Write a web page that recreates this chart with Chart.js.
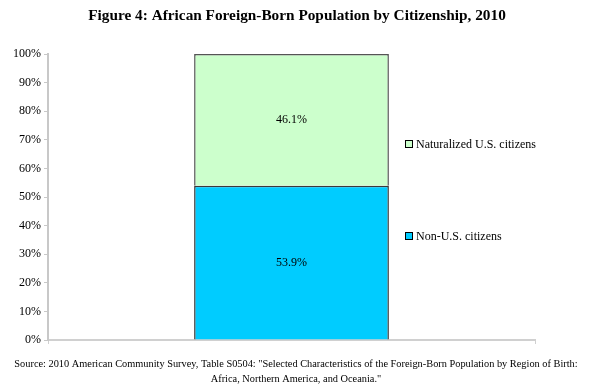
<!DOCTYPE html>
<html>
<head>
<meta charset="utf-8">
<script src="https://cdn.jsdelivr.net/npm/chart.js@4.4.1/dist/chart.umd.min.js"></script>
<style>
html,body{margin:0;padding:0;background:#fff;}
#wrap{width:590px;height:392px;position:relative;}
</style>
</head>
<body>
<div id="wrap"><canvas id="c" width="590" height="392"></canvas></div>
<script>
const titleText = "Figure 4: African Foreign-Born Population by Citizenship, 2010";
const sourceLines = [
  "Source: 2010 American Community Survey, Table S0504: \"Selected Characteristics of the Foreign-Born Population by Region of Birth:",
  "Africa, Northern America, and Oceania.\""
];
const categories = ["Africa"];
const seriesNames = ["Non-U.S. citizens", "Naturalized U.S. citizens"];
const nonCitizens = [53.9];
const naturalized = [46.1];
const yTicks = [0,10,20,30,40,50,60,70,80,90,100];

const SERIF = "'Liberation Serif','Times New Roman',serif";

const overlay = {
  id: 'overlay',
  afterDraw(chart) {
    const ctx = chart.ctx;
    ctx.save();
    // title
    ctx.fillStyle = '#000';
    ctx.font = "bold 15.3px " + SERIF;
    ctx.textAlign = 'center';
    ctx.textBaseline = 'middle';
    ctx.fillText(titleText, 297, 16);
    // source
    ctx.font = "10.35px " + SERIF;
    ctx.fillText(sourceLines[0], 296, 364);
    ctx.fillText(sourceLines[1], 296, 379);
    // data labels
    ctx.font = "12px " + SERIF;
    chart.data.datasets.forEach((ds, i) => {
      const meta = chart.getDatasetMeta(i);
      meta.data.forEach((el, j) => {
        const p = el.getProps(['x','y','base'], true);
        ctx.fillText(ds.data[j].toFixed(1) + '%', p.x, (p.y + p.base) / 2);
      });
    });
    // legend
    const legendY = {0: 236, 1: 144};
    ctx.textAlign = 'left';
    ctx.font = "12px " + SERIF;
    chart.data.datasets.forEach((ds, i) => {
      const y = legendY[i];
      ctx.fillStyle = ds.backgroundColor;
      ctx.fillRect(405, y - 4, 8, 8);
      ctx.strokeStyle = '#000';
      ctx.lineWidth = 1;
      ctx.strokeRect(405.5, y - 3.5, 7, 7);
      ctx.fillStyle = '#000';
      ctx.fillText(ds.label, 416, y + 1);
    });
    ctx.restore();
  }
};

new Chart(document.getElementById('c'), {
  type: 'bar',
  data: {
    labels: categories,
    datasets: [
      { label: seriesNames[0], data: nonCitizens, backgroundColor: '#00CCFF', borderColor: '#3a3a3a', borderWidth: 1.5 },
      { label: seriesNames[1], data: naturalized, backgroundColor: '#CCFFCC', borderColor: '#555555', borderWidth: 1.5 }
    ]
  },
  options: {
    responsive: false,
    animation: false,
    layout: { padding: { top: 54, bottom: 52, left: 0, right: 55 } },
    plugins: { legend: { display: false }, title: { display: false }, tooltip: { enabled: false } },
    datasets: { bar: { barPercentage: 0.4, categoryPercentage: 1.0 } },
    scales: {
      x: {
        stacked: true,
        offset: true,
        ticks: { display: false },
        grid: { display: true, offset: true, drawOnChartArea: false, drawTicks: true, tickLength: 4, color: '#d0d0d0', lineWidth: 1 },
        border: { display: true, color: '#d0d0d0', width: 2 },
        afterFit(s) { s.height = 0; }
      },
      y: {
        stacked: true,
        min: 0, max: 100,
        afterBuildTicks(s) { s.ticks = yTicks.map(v => ({ value: v })); },
        ticks: { color: '#000', font: { family: SERIF, size: 12 }, padding: 3, callback: v => v + '%' },
        grid: { drawOnChartArea: false, drawTicks: true, tickLength: 4, color: '#c8c8c8' },
        border: { display: true, color: '#c8c8c8', width: 2 },
        afterFit(s) { s.width = 48; }
      }
    }
  },
  plugins: [overlay]
});
</script>
</body>
</html>
